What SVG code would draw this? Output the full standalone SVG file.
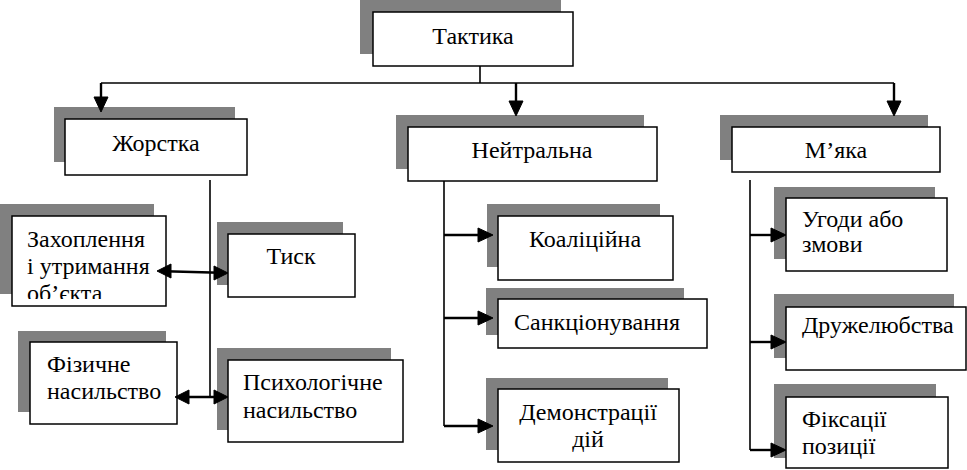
<svg xmlns="http://www.w3.org/2000/svg" width="967" height="470" viewBox="0 0 967 470">
<style>
.sh{fill:#808080;stroke:none}
.bx{fill:#fff;stroke:#000;stroke-width:1.5}
.c{text-anchor:middle}
.ln{stroke:#000;stroke-width:1.6;fill:none}
.ar{stroke:#000;stroke-width:2.4;fill:none}
.hd{fill:#000;stroke:#000;stroke-width:1}
</style>
<defs>
<clipPath id="clipZ"><rect x="0" y="200" width="200" height="99"/></clipPath>
</defs>
<rect width="967" height="470" fill="#fff"/>

<g font-family="'Liberation Serif', 'Times New Roman', serif" font-size="24" fill="#000">
<g id="taktyka">
<rect class="sh" x="360" y="0" width="201" height="54"/>
<rect class="bx" x="373" y="12" width="200" height="54"/>
<text class="c" x="473" y="44">Тактика</text>
</g>

<g id="zhorstka">
<rect class="sh" x="54" y="107" width="181" height="55"/>
<rect class="bx" x="65" y="119" width="182" height="56"/>
<text class="c" x="156" y="151">Жорстка</text>
</g>

<g id="neitralna">
<rect class="sh" x="396" y="115" width="248" height="54"/>
<rect class="bx" x="408" y="127" width="249" height="54"/>
<text class="c" x="532" y="158">Нейтральна</text>
</g>

<g id="miaka">
<rect class="sh" x="720" y="115" width="208" height="45"/>
<rect class="bx" x="732" y="127" width="208" height="45"/>
<text class="c" x="836" y="158">М’яка</text>
</g>

<g id="zakhoplennia">
<rect class="sh" x="0" y="204" width="154" height="90"/>
<rect class="bx" x="12" y="216" width="154" height="90"/>
<g clip-path="url(#clipZ)">
<text x="27" y="247">Захоплення</text>
<text x="27" y="274">і утримання</text>
<text x="27" y="301">об’єкта</text>
</g>
</g>

<g id="tysk">
<rect class="sh" x="217" y="222" width="126" height="63"/>
<rect class="bx" x="228" y="234" width="127" height="63"/>
<text class="c" x="291" y="264">Тиск</text>
</g>

<g id="fizychne">
<rect class="sh" x="18" y="331" width="148" height="81"/>
<rect class="bx" x="30" y="342" width="147" height="82"/>
<text x="47" y="372">Фізичне</text>
<text x="47" y="399">насильство</text>
</g>

<g id="psykholohichne">
<rect class="sh" x="217" y="348" width="174" height="82"/>
<rect class="bx" x="228" y="360" width="175" height="82"/>
<text x="243" y="390">Психологічне</text>
<text x="243" y="418">насильство</text>
</g>

<g id="koalitsiina">
<rect class="sh" x="487" y="204" width="173" height="63"/>
<rect class="bx" x="498" y="216" width="175" height="64"/>
<text class="c" x="585" y="247">Коаліційна</text>
</g>

<g id="sanktsionuvannia">
<rect class="sh" x="486" y="288" width="198" height="47"/>
<rect class="bx" x="498" y="299" width="209" height="49"/>
<text class="c" x="597" y="330">Санкціонування</text>
</g>

<g id="demonstratsii">
<rect class="sh" x="486" y="378" width="182" height="72"/>
<rect class="bx" x="498" y="389" width="181" height="73"/>
<text class="c" x="588" y="420">Демонстрації</text>
<text class="c" x="588" y="447">дій</text>
</g>

<g id="uhody">
<rect class="sh" x="774" y="187" width="161" height="72"/>
<rect class="bx" x="786" y="198" width="161" height="73"/>
<text x="802" y="227">Угоди або</text>
<text x="802" y="252">змови</text>
</g>

<g id="druzheliubstva">
<rect class="sh" x="774" y="294" width="180" height="64"/>
<rect class="bx" x="786" y="307" width="180" height="63"/>
<text x="802" y="333">Дружелюбства</text>
</g>

<g id="fiksatsii">
<rect class="sh" x="774" y="384" width="162" height="74"/>
<rect class="bx" x="786" y="397" width="162" height="71"/>
<text x="802" y="427">Фіксації</text>
<text x="802" y="454">позиції</text>
</g>
</g>

<g id="connectors">
<line class="ln" x1="480" y1="66" x2="480" y2="83"/>
<line class="ln" x1="101" y1="83" x2="894" y2="83"/>
<line class="ar" x1="101" y1="83" x2="101" y2="100"/>
<polygon class="hd" points="101,112 94,97 108,97"/>
<line class="ar" x1="516" y1="83" x2="516" y2="104"/>
<polygon class="hd" points="516,116 509,101 523,101"/>
<line class="ar" x1="894" y1="83" x2="894" y2="104"/>
<polygon class="hd" points="894,116 887,101 901,101"/>
<line class="ln" x1="210" y1="180" x2="210" y2="397"/>
<line class="ar" x1="165" y1="271.3" x2="220" y2="272.7"/>
<polygon class="hd" points="157,271 171,264 171,278"/>
<polygon class="hd" points="228,273 214,266 214,280"/>
<line class="ar" x1="183" y1="397" x2="220" y2="397"/>
<polygon class="hd" points="175,397 189,390 189,404"/>
<polygon class="hd" points="228,397 214,390 214,404"/>
<line class="ln" x1="444" y1="181" x2="444" y2="426"/>
<line class="ar" x1="444" y1="235" x2="484" y2="235"/>
<polygon class="hd" points="493,235 478,228 478,242"/>
<line class="ar" x1="444" y1="318" x2="484" y2="318"/>
<polygon class="hd" points="493,318 478,311 478,325"/>
<line class="ar" x1="444" y1="426" x2="484" y2="426"/>
<polygon class="hd" points="493,426 478,419 478,433"/>
<line class="ln" x1="750" y1="180" x2="750" y2="450"/>
<line class="ar" x1="750" y1="235" x2="776" y2="235"/>
<polygon class="hd" points="786,235 771,228 771,242"/>
<line class="ar" x1="750" y1="342" x2="776" y2="342"/>
<polygon class="hd" points="786,342 771,335 771,349"/>
<line class="ar" x1="750" y1="450" x2="776" y2="450"/>
<polygon class="hd" points="786,450 771,443 771,457"/>
</g>
</svg>
